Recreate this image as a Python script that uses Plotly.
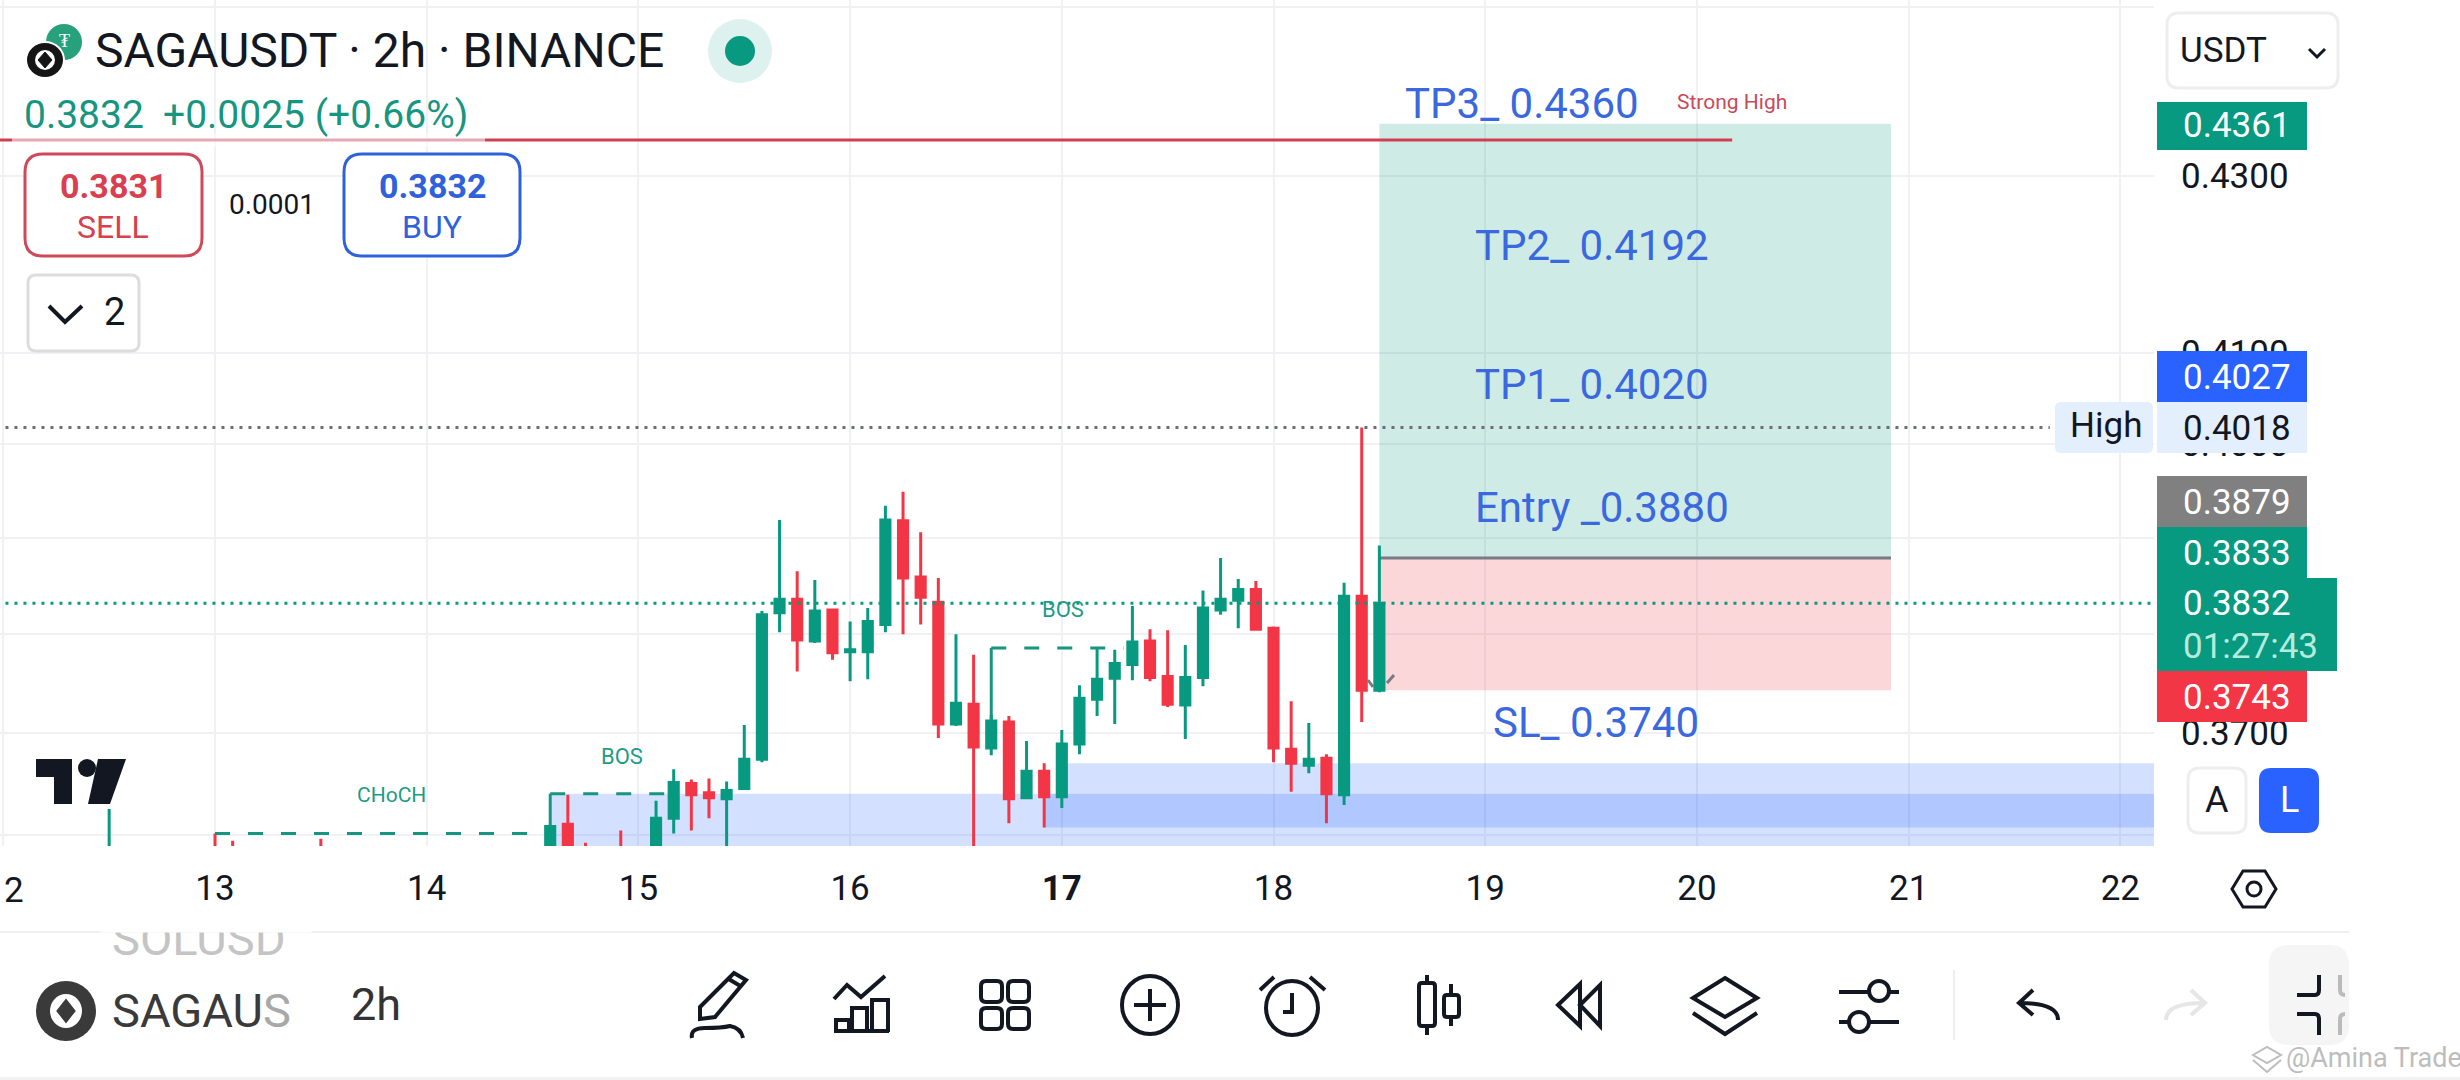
import plotly.graph_objects as go

# 2h candles (candles fully under the axis are left out)
times = ['03-12 12:00', '03-13 00:00', '03-13 02:00', '03-13 12:00',
         '03-14 14:00', '03-14 16:00', '03-14 18:00', '03-14 22:00',
         '03-15 02:00', '03-15 04:00', '03-15 06:00', '03-15 08:00', '03-15 10:00', '03-15 12:00',
         '03-15 14:00', '03-15 16:00', '03-15 18:00', '03-15 20:00', '03-15 22:00',
         '03-16 00:00', '03-16 02:00', '03-16 04:00', '03-16 06:00', '03-16 08:00', '03-16 10:00',
         '03-16 12:00', '03-16 14:00', '03-16 16:00', '03-16 18:00', '03-16 20:00', '03-16 22:00',
         '03-17 00:00', '03-17 02:00', '03-17 04:00', '03-17 06:00', '03-17 08:00', '03-17 10:00',
         '03-17 12:00', '03-17 14:00', '03-17 16:00', '03-17 18:00', '03-17 20:00', '03-17 22:00',
         '03-18 00:00', '03-18 02:00', '03-18 04:00', '03-18 06:00', '03-18 08:00', '03-18 10:00', '03-18 12:00']
opens = [.3560, .3580, .3575, .3578,
         .3575, .3610, .3585, .3585,
         .3585, .3616, .3650, .3641, .3635, .3645,
         .3674, .3822, .3836, .3793, .3825,
         .3782, .3782, .3810, .3918, .3859, .3833,
         .3709, .3729, .3685, .3711, .3636, .3662,
         .3637, .3689, .3734, .3755, .3769, .3793,
         .3757, .3728, .3756, .3825, .3835, .3846,
         .3806, .3684, .3668, .3675, .3639, .3839, .3743]
highs = [.3625, .3601, .3594, .3596,
         .3608, .3639, .3592, .3604,
         .3633, .3664, .3654, .3655, .3652, .3708,
         .3824, .3919, .3865, .3856, .3826,
         .3813, .3827, .3934, .3949, .3906, .3858,
         .3800, .3779, .3718, .3717, .3692, .3670,
         .3703, .3748, .3786, .3784, .3829, .3805,
         .3804, .3789, .3845, .3879, .3857, .3855,
         .3808, .3732, .3710, .3679, .3853, .4018, .3892]
lows = [.3550, .3560, .3560, .3560,
        .3570, .3570, .3570, .3570,
        .3580, .3601, .3604, .3616, .3580, .3645,
        .3671, .3802, .3762, .3791, .3774,
        .3752, .3754, .3802, .3800, .3810, .3695,
        .3707, .3585, .3678, .3611, .3635, .3607,
        .3626, .3679, .3717, .3709, .3753, .3752,
        .3726, .3694, .3747, .3820, .3806, .3805,
        .3671, .3642, .3660, .3611, .3629, .3711, .3741]
closes = [.3575, .3570, .3565, .3570,
          .3608, .3578, .3575, .3575,
          .3616, .3651, .3639, .3636, .3643, .3674,
          .3820, .3836, .3794, .3824, .3781,
          .3784, .3813, .3919, .3858, .3838, .3709,
          .3730, .3686, .3712, .3635, .3662, .3637,
          .3689, .3735, .3754, .3770, .3792, .3756,
          .3729, .3756, .3827, .3836, .3846, .3805,
          .3685, .3670, .3674, .3640, .3839, .3743, .3832]

tick_days = ['03-12', '03-13', '03-14', '03-15', '03-16', '03-17', '03-18', '03-19', '03-20', '03-21', '03-22']
tick_labels = ['12', '13', '14', '15', '16', '<b>17</b>', '18', '19', '20', '21', '22']
price_ticks = [.45, .43, .41, .40, .39, .38, .37, .36]
price_labels = ['', '0.4300', '0.4100', '0.4000', '', '', '0.3700', '']

current_price = .3832
session_high = .4018
strong_high = .4342
tp_price, entry_price, sl_price = .4361, .3879, .3743

YEAR = '2025-'
GREEN = '#089981'
RED = '#F23645'
BLUE_TXT = '#3A68DE'
INK = '#131722'
FONT = 'Roboto'
PLOT_W, PLOT_H = 2154, 846

shapes = []
notes = []


def box(x0, y0, x1, y1, fill, line=None, lw=0, r=0, layer='above'):
    # rounded rect in page pixels
    if r:
        p = (f'M{x0+r},{y0} L{x1-r},{y0} Q{x1},{y0} {x1},{y0+r} L{x1},{y1-r} Q{x1},{y1} {x1-r},{y1} '
             f'L{x0+r},{y1} Q{x0},{y1} {x0},{y1-r} L{x0},{y0+r} Q{x0},{y0} {x0+r},{y0} Z')
    else:
        p = f'M{x0},{y0} L{x1},{y0} L{x1},{y1} L{x0},{y1} Z'
    path(p, fill, line, lw, layer)


def path(p, fill='rgba(0,0,0,0)', line=INK, lw=3, layer='above'):
    shapes.append(dict(type='path', path=p, xref='x2', yref='y2', fillcolor=fill, layer=layer,
                       line=dict(color=line or 'rgba(0,0,0,0)', width=lw)))


def circle(cx, cy, rx, ry, fill='rgba(0,0,0,0)', line=None, lw=0):
    shapes.append(dict(type='circle', xref='x2', yref='y2', x0=cx-rx, x1=cx+rx, y0=cy-ry, y1=cy+ry,
                       fillcolor=fill, layer='above', line=dict(color=line or 'rgba(0,0,0,0)', width=lw)))


def text(x, y, s, size, color=INK, anchor='left'):
    notes.append(dict(xref='x2', yref='y2', x=x, y=y, text=s, showarrow=False, xanchor=anchor, yanchor='middle',
                      borderpad=0, font=dict(family=FONT, size=size, color=color)))


def mask(x0, y0, x1, y1, color='white'):
    notes.append(dict(xref='x2', yref='y2', x=x0, y=y0, text=' ', showarrow=False, xanchor='left', yanchor='top',
                      width=x1-x0, height=y1-y0, bgcolor=color, borderpad=0))


fig = go.Figure()

xs = [YEAR + t for t in times]
fig.add_trace(go.Candlestick(x=xs, open=opens, high=highs, low=lows, close=closes, whiskerwidth=0,
                             increasing=dict(line=dict(color=GREEN, width=3), fillcolor=GREEN),
                             decreasing=dict(line=dict(color=RED, width=3), fillcolor=RED),
                             hoverinfo='skip', showlegend=False))

# structure lines
struct = dict(mode='lines', hoverinfo='skip', showlegend=False)
dashed = dict(color='#16967F', width=3, dash='15px,18px')
solid = dict(color='#16967F', width=3)
fig.add_trace(go.Scatter(x=[YEAR+'03-13 00:00', YEAR+'03-14 12:00'], y=[.3601, .3601], line=dashed, **struct))
fig.add_trace(go.Scatter(x=[YEAR+'03-14 14:00', YEAR+'03-15 03:00'], y=[.3640, .3640], line=dashed, **struct))
fig.add_trace(go.Scatter(x=[YEAR+'03-14 14:00', YEAR+'03-14 14:00'], y=[.3608, .3640], line=solid, **struct))
fig.add_trace(go.Scatter(x=[YEAR+'03-16 16:00', YEAR+'03-17 07:00'], y=[.3786, .3786], line=dashed, **struct))
fig.add_trace(go.Scatter(x=[YEAR+'03-16 16:00', YEAR+'03-16 16:00'], y=[.3712, .3786], line=solid, **struct))

# red line and dotted price lines
fig.add_trace(go.Scatter(x=[YEAR+'03-11 12:00', YEAR+'03-20 04:00'], y=[strong_high, strong_high],
                         line=dict(color='#CF3F52', width=3), **struct))
fig.add_trace(go.Scatter(x=[YEAR+'03-11 12:00', YEAR+'03-21 16:00'], y=[session_high, session_high],
                         line=dict(color='#6B6E78', width=3, dash='3px,6px'), **struct))
fig.add_trace(go.Scatter(x=[YEAR+'03-11 12:00', YEAR+'03-23 00:00'], y=[current_price, current_price],
                         line=dict(color=GREEN, width=3, dash='3px,6px'), **struct))

# page-pixel helper axes for the app chrome
fig.add_trace(go.Scatter(x=[0], y=[0], xaxis='x2', yaxis='y2', mode='markers', opacity=0, hoverinfo='skip', showlegend=False))

# long position and demand zones sit on the price scale
zone_right = YEAR + '03-23 00:00'
def data_rect(x0, x1, y0, y1, fill):
    shapes.append(dict(type='rect', xref='x', yref='y', x0=x0, x1=x1, y0=y0, y1=y1, fillcolor=fill,
                       line=dict(width=0), layer='between'))
data_rect(YEAR+'03-14 14:00', zone_right, .3640, .3580, 'rgba(41,98,255,0.2)')
data_rect(YEAR+'03-17 00:00', zone_right, .3670, .3640, 'rgba(41,98,255,0.2)')
data_rect(YEAR+'03-16 22:00', zone_right, .3640, .3607, 'rgba(41,98,255,0.2)')
data_rect(YEAR+'03-18 12:00', YEAR+'03-20 22:00', entry_price, tp_price, 'rgba(8,153,129,0.2)')
data_rect(YEAR+'03-18 12:00', YEAR+'03-20 22:00', sl_price, entry_price, 'rgba(242,54,69,0.2)')
shapes.append(dict(type='line', xref='x', yref='y', x0=YEAR+'03-18 12:00', x1=YEAR+'03-20 22:00', y0=entry_price, y1=entry_price,
                   line=dict(color='#787B86', width=3), layer='between'))

# position and structure labels
text(1404, 103, 'TP3_ 0.4360', 42, BLUE_TXT)
text(1474, 245, 'TP2_ 0.4192', 42, BLUE_TXT)
text(1474, 384, 'TP1_ 0.4020', 42, BLUE_TXT)
text(1474, 507, 'Entry _0.3880', 42, BLUE_TXT)
text(1492, 722, 'SL_ 0.3740', 42, BLUE_TXT)
text(1732, 102, 'Strong High', 21, '#C94A59', 'center')
text(391, 795, 'CHoCH', 21, '#1F9C85', 'center')
text(622, 756, 'BOS', 22, '#1F9C85', 'center')
text(1063, 609, 'BOS', 22, '#1F9C85', 'center')
path('M1368,680 L1373,687 M1387,683 L1394,675', line='#787B86', lw=3)

# legend strip over the red line
box(12, 134, 485, 147, 'rgba(255,255,255,0.55)')

# header
circle(64, 42, 18, 18, '#26A17B')
text(64, 40, '₮', 18, 'white', 'center')
circle(45, 60, 20, 19, 'white')
circle(45, 60, 18, 17, '#151515')
circle(45, 60, 10, 10, 'white')
path('M45,52 L52,60 L45,68 L38,60 Z', fill='#151515', line='#151515', lw=1)
text(94, 50, 'SAGAUSDT · 2h · BINANCE', 48)
circle(740, 51, 32, 32, '#DDF2EE')
circle(740, 51, 15, 15, GREEN)
text(23, 115, '0.3832', 39, '#16967F')
text(162, 115, '+0.0025 (+0.66%)', 39, '#16967F')

# buy / sell
box(25, 154, 202, 256, 'white', '#D0495B', 3, 18)
text(113, 186, '<b>0.3831</b>', 34, '#D9404F', 'center')
text(113, 227, 'SELL', 32, '#D9404F', 'center')
text(272, 204, '0.0001', 28, INK, 'center')
box(344, 154, 520, 256, 'white', '#2F62DA', 3, 18)
text(432, 186, '<b>0.3832</b>', 34, '#2F62DA', 'center')
text(432, 227, 'BUY', 32, '#2F62DA', 'center')
box(28, 275, 139, 351, 'white', '#DDDDDD', 3, 8)
path('M49,306 L65,322 L82,306', lw=4)
text(114, 312, '2', 38, INK, 'center')

# TradingView mark
path('M36,759 L72,759 L72,804 L54,804 L54,777 L36,777 Z', fill=INK, line=INK, lw=0)
circle(87, 768, 9, 9, INK)
path('M98,759 L126,759 L110,804 L88,804 Z', fill=INK, line=INK, lw=0)

# price scale tags
box(2167, 13, 2338, 88, 'white', '#EEEEEE', 3, 12)
text(2179, 50, 'USDT', 35)
path('M2309,49 L2317,57 L2325,49', lw=3)
tags = [(102, 150, 2307, GREEN), (351, 402, 2307, '#2962FF'), (402, 453, 2307, '#E3EFFD'), (476, 527, 2307, '#808080'),
        (527, 578, 2307, GREEN), (578, 671, 2337, GREEN), (671, 722, 2307, RED)]
for y0, y1, x1, col in tags:
    box(2157, y0, x1, y1, col, r=0)
box(2055, 402, 2153, 453, '#E3EFFD', r=6)
text(2182, 125, '0.4361', 35, 'white')
text(2182, 377, '0.4027', 35, 'white')
text(2182, 428, '0.4018', 35, INK)
text(2069, 425, 'High', 35, INK)
text(2182, 502, '0.3879', 35, 'white')
text(2182, 553, '0.3833', 35, 'white')
text(2182, 603, '0.3832', 35, 'white')
text(2182, 646, '01:27:43', 35, '#B5EBDD')
text(2182, 697, '0.3743', 35, 'white')

box(2188, 768, 2246, 833, 'white', '#EEEEEE', 3, 12)
text(2217, 800, 'A', 36, INK, 'center')
box(2259, 768, 2319, 833, '#2962FF', None, 0, 12)
text(2289, 800, 'L', 36, 'white', 'center')
path('M2232,889 L2243,871 L2265,871 L2276,889 L2265,907 L2243,907 Z', lw=3)
circle(2254, 889, 7, 7, line=INK, lw=3)

# only the right half of the first day label stays on the page
text(14, 890, '2', 35, INK, 'center')

# toolbar
circle(66, 1011, 30, 30, '#3A3A3A')
circle(66, 1011, 16, 17, 'white')
path('M66,997 L77,1011 L66,1025 L55,1011 Z', fill='#3A3A3A', line='white', lw=2)
text(111, 1010, 'SAGAU<span style="color:#A8A8A8">S</span>', 47, '#3A3A3A')
text(350, 1004, '2h', 45, '#333333')
text(111, 938, 'SOLUSD', 47, '#C4C4C4')
mask(100, 912, 310, 931)
text(111, 1082, 'GOLD', 47, '#C4C4C4')
box(0, 931, 2349, 933, '#F0F0F0')
box(0, 1077, 2460, 1080, '#F2F2F2')

path('M700,1007 L734,973 L746,980 L715,1017 L700,1019 Z M727,978 L742,987', lw=4)
path('M692,1038 Q690,1028 705,1028 Q722,1028 730,1026 Q741,1028 743,1038', lw=4)
path('M834,999 L847,985 L861,997 L885,976', lw=4)
path('M836,1032 L836,1020 L849,1020 L849,1032 M852,1032 L852,1008 L867,1008 L867,1032 M872,1032 L872,1000 L888,1000 L888,1032 M834,1031 L889,1031', lw=4)
box(981, 981, 1002, 1002, 'white', INK, 4, 5)
box(1008, 981, 1029, 1002, 'white', INK, 4, 5)
box(981, 1008, 1002, 1029, 'white', INK, 4, 5)
box(1008, 1008, 1029, 1029, 'white', INK, 4, 5)
circle(1150, 1005, 28, 29, line=INK, lw=4)
path('M1150,989 L1150,1021 M1134,1005 L1166,1005', lw=4)
circle(1292, 1008, 26, 27, line=INK, lw=4)
path('M1292,993 L1292,1012 L1283,1012', lw=4)
path('M1260,990 L1274,977 M1325,990 L1310,977', lw=4)
path('M1427,975 L1427,983 M1427,1026 L1427,1035 M1451,984 L1451,995 M1451,1017 L1451,1026', lw=4)
box(1419, 983, 1435, 1026, 'white', INK, 4, 3)
box(1444, 995, 1459, 1017, 'white', INK, 4, 3)
path('M1558,1005 L1580,984 L1580,1026 Z M1580,1005 L1600,985 L1600,1026 Z', lw=4)
path('M1725,978 L1757,998 L1725,1017 L1693,998 Z M1693,1013 L1725,1034 L1757,1013', lw=4)
path('M1839,992 L1899,992 M1839,1022 L1899,1022', lw=4)
circle(1879, 991, 10, 10, 'white', INK, 4)
circle(1859, 1022, 10, 10, 'white', INK, 4)
box(1953, 970, 1955, 1040, '#EEEEEE')
path('M2033,990 L2019,1003 L2033,1015 M2020,1003 Q2058,1003 2058,1020', lw=4)
path('M2191,990 L2205,1003 L2191,1015 M2204,1003 Q2166,1003 2166,1020', line='#E6E6E6', lw=4)
box(2269, 945, 2349, 1045, '#F5F5F5', None, 0, 20)
path('M2297,995 L2315,995 Q2319,995 2319,990 L2319,975 M2297,1014 L2315,1014 Q2319,1014 2319,1019 L2319,1035', lw=4)
path('M2340,975 L2340,990 Q2340,995 2345,995 M2340,1035 L2340,1019 Q2340,1014 2345,1014', line='#BBBBBB', lw=4)
path('M2253,1055 L2267,1047 L2281,1055 L2267,1063 Z M2253,1060 L2267,1072 L2281,1060', line='#BDBDBD', lw=2)
text(2285, 1058, '@Amina Trade', 27, '#BDBDBD')

fig.update_layout(
    width=2460, height=1080, margin=dict(l=0, r=0, t=0, b=0),
    paper_bgcolor='white', plot_bgcolor='rgba(0,0,0,0)', showlegend=False, boxgap=0.26,
    font=dict(family=FONT, color=INK),
    shapes=shapes, annotations=notes,
    xaxis=dict(domain=[0, PLOT_W/2460], range=[YEAR+'03-11 23:37:30', YEAR+'03-22 03:49:00'], type='date',
               rangeslider=dict(visible=False), showgrid=True, gridcolor='#F0F1F5', gridwidth=2, zeroline=False,
               tickmode='array', tickvals=[YEAR + d for d in tick_days], ticktext=tick_labels,
               tickfont=dict(size=35, family=FONT, color=INK), ticks='', ticklabelstandoff=18, showline=False),
    yaxis=dict(domain=[1-PLOT_H/1080, 1], type='log', side='right', range=[-0.44503, -0.34591],
               showgrid=True, gridcolor='#F0F1F5', gridwidth=2, zeroline=False, tickmode='array',
               tickvals=price_ticks, ticktext=price_labels, tickfont=dict(size=35, family=FONT, color=INK),
               ticks='', ticklabelstandoff=26, showline=False),
    xaxis2=dict(domain=[0, 1], range=[0, 2460], visible=False, anchor='y2', fixedrange=True),
    yaxis2=dict(domain=[0, 1], range=[1080, 0], visible=False, anchor='x2', fixedrange=True),
)

fig.write_html("out.html", config=dict(displayModeBar=False), post_script="document.body.style.margin='0';")
